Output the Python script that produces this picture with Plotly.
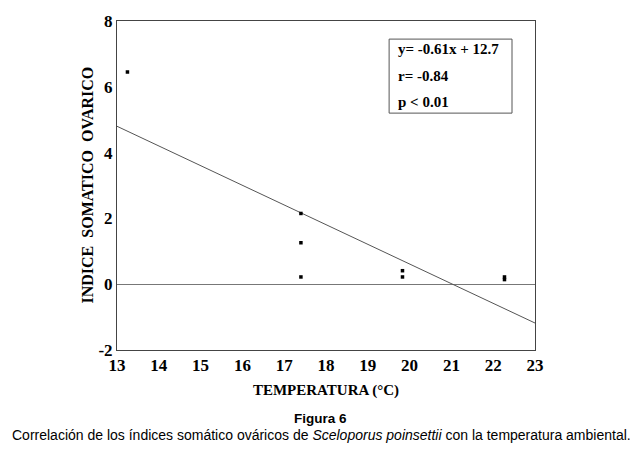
import plotly.graph_objects as go

# Data
temp = [13.25, 17.4, 17.4, 17.4, 19.83, 19.83, 22.27, 22.27]
iso = [6.45, 2.15, 1.26, 0.22, 0.41, 0.22, 0.22, 0.14]
fit_x = [13, 23]
fit_y = [4.8, -1.18]
x_ticks = [13, 14, 15, 16, 17, 18, 19, 20, 21, 22, 23]
y_ticks = [-2, 0, 2, 4, 6, 8]
y_ticktext = ["-2", "0", "2", "4", "6", "8"]
stats_lines = ["y= -0.61x + 12.7", "r= -0.84", "p < 0.01"]
stats_y = [7.16, 6.34, 5.55]

serif = "Liberation Serif"
sans = "Liberation Sans"

W, H = 632, 450
L, R, T, B = 109, 105, 13, 108
PW, PH = W - L - R, H - T - B

fig = go.Figure()
fig.add_trace(go.Scatter(x=fit_x, y=fit_y, mode="lines",
                         line=dict(color="#555555", width=1), showlegend=False))
fig.add_trace(go.Scatter(x=temp, y=iso, mode="markers",
                         marker=dict(symbol="square", size=3.5, color="black"),
                         showlegend=False))

tickfont = dict(family=serif, size=17, color="black", weight="bold")
fig.update_layout(
    width=W, height=H,
    margin=dict(l=L, r=R, t=T, b=B),
    paper_bgcolor="white", plot_bgcolor="white",
    xaxis=dict(range=[13, 23], tickvals=x_ticks, ticks="", showgrid=False, automargin=False,
               zeroline=False, showline=True, linecolor="#444444", linewidth=1, mirror=True,
               tickfont=tickfont, ticklabelstandoff=0,
               title=dict(text="TEMPERATURA (°C)",
                          font=dict(family=serif, size=15, color="black", weight="bold"),
                          standoff=10)),
    yaxis=dict(range=[-2, 8], tickvals=y_ticks, ticktext=y_ticktext, ticks="", showgrid=False,
               automargin=False,
               zeroline=True, zerolinecolor="#777777", zerolinewidth=1,
               showline=True, linecolor="#444444", linewidth=1, mirror=True,
               tickfont=tickfont, ticklabelstandoff=0),
)

def px_to_paper_x(px):
    return (px - 8 - L) / PW

def px_to_paper_y(py):
    return (H - B - (py - 8)) / PH

# Y axis title as rotated annotation
fig.add_annotation(x=px_to_paper_x(87), y=0.5, xref="paper", yref="paper",
                   text="INDICE  SOMATICO  OVARICO", textangle=-90, showarrow=False,
                   xanchor="center", yanchor="middle",
                   font=dict(family=serif, size=16, color="black", weight="bold"))

# Stats box
fig.add_shape(type="rect", xref="x", yref="y", x0=19.51, x1=22.45, y0=5.2, y1=7.45,
              line=dict(color="#555555", width=1), fillcolor="white", layer="above")
for txt, yy in zip(stats_lines, stats_y):
    fig.add_annotation(x=19.68, y=yy, xref="x", yref="y", text=txt,
                       showarrow=False, xanchor="left", yanchor="middle",
                       font=dict(family=serif, size=15, color="black", weight="bold"))

# Caption
fig.add_annotation(x=px_to_paper_x(320), y=px_to_paper_y(418), xref="paper", yref="paper",
                   text="<b>Figura 6</b>", showarrow=False, yanchor="middle",
                   font=dict(family=sans, size=13.5, color="black"))
fig.add_annotation(x=px_to_paper_x(321), y=px_to_paper_y(435), xref="paper", yref="paper",
                   text="Correlación de los índices somático ováricos de <i>Sceloporus poinsettii</i> con la temperatura ambiental.",
                   showarrow=False, yanchor="middle",
                   font=dict(family=sans, size=14, color="black"))

fig.write_html("out.html")
